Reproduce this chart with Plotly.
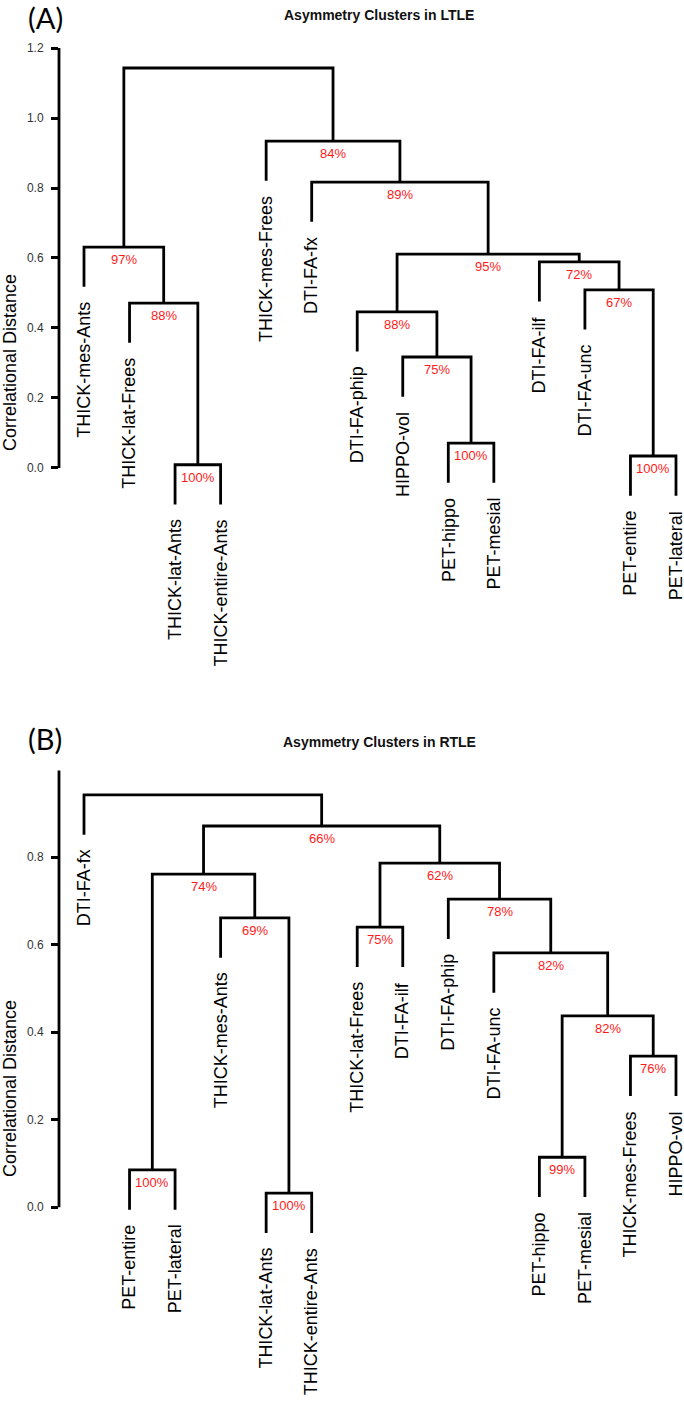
import plotly.graph_objects as go

# ---- panel A : LTLE ----
labels_a = ["THICK-mes-Ants", "THICK-lat-Frees", "THICK-lat-Ants", "THICK-entire-Ants",
            "THICK-mes-Frees", "DTI-FA-fx", "DTI-FA-phip", "HIPPO-vol", "PET-hippo",
            "PET-mesial", "DTI-FA-ilf", "DTI-FA-unc", "PET-entire", "PET-lateral"]
# R hclust style merge: negative = leaf (1-based), positive = earlier merge row
merge_a = [(-3, -4), (-13, -14), (-9, -10), (-8, 3), (-7, 4), (-2, 1), (-12, 2),
           (-11, 7), (5, 8), (-1, 6), (-6, 9), (-5, 11), (10, 12)]
height_a = [0.009, 0.034, 0.071, 0.317, 0.446, 0.471, 0.509,
            0.589, 0.611, 0.631, 0.817, 0.934, 1.143]
boot_a = ["100%", "100%", "100%", "75%", "88%", "88%", "67%",
          "72%", "95%", "97%", "89%", "84%", ""]
ticks_a = [0.0, 0.2, 0.4, 0.6, 0.8, 1.0, 1.2]

# ---- panel B : RTLE ----
labels_b = ["DTI-FA-fx", "PET-entire", "PET-lateral", "THICK-mes-Ants", "THICK-lat-Ants",
            "THICK-entire-Ants", "THICK-lat-Frees", "DTI-FA-ilf", "DTI-FA-phip",
            "DTI-FA-unc", "PET-hippo", "PET-mesial", "THICK-mes-Frees", "HIPPO-vol"]
merge_b = [(-5, -6), (-2, -3), (-11, -12), (-13, -14), (3, 4), (-10, 5), (-7, -8),
           (-4, 1), (-9, 6), (2, 8), (7, 9), (10, 11), (-1, 12)]
height_b = [0.032, 0.085, 0.114, 0.345, 0.437, 0.581, 0.640,
            0.661, 0.704, 0.761, 0.786, 0.871, 0.942]
boot_b = ["100%", "100%", "99%", "76%", "82%", "82%", "75%",
          "69%", "78%", "74%", "62%", "66%", ""]
ticks_b = [0.0, 0.2, 0.4, 0.6, 0.8]

FONT = "Liberation Sans, Arial, sans-serif"
W, H = 684, 1401
L = 59
XR = [0.451, 14.176]


def fx(px):
    # page pixel -> paper x
    return (px - L) / (W - L)


def fy(py):
    # page pixel -> paper y
    return 1 - py / H


def dendro(labels, merge, height, hang=0.1):
    drop = hang * (max(height) - min(height))
    node_x, node_h = [], []
    xs, ys = [], []
    leaf_end = {}

    def pos(c, h):
        if c < 0:
            i = -c
            leaf_end[i] = h - drop
            return i, h - drop
        return node_x[c - 1], node_h[c - 1]

    for (a, b), h in zip(merge, height):
        xa, ha = pos(a, h)
        xb, hb = pos(b, h)
        xs += [xa, xa, xb, xb, None]
        ys += [ha, h, h, hb, None]
        node_x.append((xa + xb) / 2)
        node_h.append(h)
    return xs, ys, node_x, node_h, leaf_end


fig = go.Figure()
panels = [
    dict(lab=labels_a, mer=merge_a, hgt=height_a, boot=boot_a, ticks=ticks_a, top=1.2,
         yr=[-0.549, 1.223], dom=[fy(660), fy(40)], ax="", title="Asymmetry Clusters in LTLE",
         tag="(A)", tag_y=fy(18), tit_y=fy(15), ylab=0.30),
    dict(lab=labels_b, mer=merge_b, hgt=height_b, boot=boot_b, ticks=ticks_b, top=0.998,
         yr=[-0.443, 1.159], dom=[0, fy(700)], ax="2", title="Asymmetry Clusters in RTLE",
         tag="(B)", tag_y=fy(738), tit_y=fy(742), ylab=0.27),
]

annotations = []
shapes = []
for p in panels:
    xs, ys, nx, nh, leaf_end = dendro(p["lab"], p["mer"], p["hgt"])
    xa, ya = "x" + p["ax"], "y" + p["ax"]
    fig.add_trace(go.Scatter(x=xs, y=ys, mode="lines", xaxis=xa, yaxis=ya,
                             line=dict(color="black", width=2.8), hoverinfo="skip",
                             showlegend=False))
    # leaf labels
    for i, name in enumerate(p["lab"], start=1):
        annotations.append(dict(x=i, y=leaf_end[i], xref=xa, yref=ya, text=name,
                                textangle=-90, showarrow=False, xanchor="center",
                                yanchor="top", yshift=-13,
                                font=dict(family=FONT, size=18, color="black")))
    # bootstrap percentages
    for x, h, t in zip(nx, nh, p["boot"]):
        if t:
            annotations.append(dict(x=x, y=h, xref=xa, yref=ya, text=t, showarrow=False,
                                    xanchor="center", yanchor="top", yshift=-3,
                                    font=dict(family=FONT, size=13, color="#ff1a1a")))
    # axis line stops at the last tick like base R
    shapes.append(dict(type="line", xref="paper", yref=ya, x0=0, x1=0, y0=0, y1=p["top"],
                       line=dict(color="black", width=2.8)))
    annotations.append(dict(x=fx(10), y=p["ylab"], xref="paper", yref=ya,
                            text="Correlational Distance", textangle=-90, showarrow=False,
                            xanchor="center", yanchor="middle",
                            font=dict(family=FONT, size=18, color="black")))
    annotations.append(dict(x=fx(379), y=p["tit_y"], xref="paper", yref="paper",
                            text="<b>" + p["title"] + "</b>", showarrow=False,
                            xanchor="center", yanchor="middle",
                            font=dict(family=FONT, size=14, color="#111")))
    annotations.append(dict(x=fx(26), y=p["tag_y"], xref="paper", yref="paper",
                            text=p["tag"], showarrow=False, xanchor="left", yanchor="middle",
                            font=dict(family="Lato, Carlito, sans-serif", size=29, color="black")))

    axis_x = dict(range=XR, domain=[0, 1], visible=False, fixedrange=True)
    axis_y = dict(range=p["yr"], domain=p["dom"], showgrid=False, zeroline=False,
                  showline=False, tickmode="array", tickvals=p["ticks"],
                  ticktext=["%.1f" % t for t in p["ticks"]], ticks="outside",
                  ticklen=7, tickwidth=2.5, tickcolor="black", ticklabelstandoff=5,
                  tickfont=dict(family=FONT, size=12, color="#333"), fixedrange=True)
    if p["ax"]:
        axis_x["anchor"] = "y2"
        axis_y["anchor"] = "x2"
        fig.update_layout(xaxis2=axis_x, yaxis2=axis_y)
    else:
        fig.update_layout(xaxis=axis_x, yaxis=axis_y)

fig.update_layout(
    width=W, height=H,
    margin=dict(l=L, r=0, t=0, b=0),
    plot_bgcolor="white", paper_bgcolor="white",
    annotations=annotations, shapes=shapes,
    showlegend=False,
)

# drop the default 8px page margin so the figure fills the window exactly
fig.write_html("out.html", config={"displayModeBar": False},
               post_script="document.body.style.margin='0';")
